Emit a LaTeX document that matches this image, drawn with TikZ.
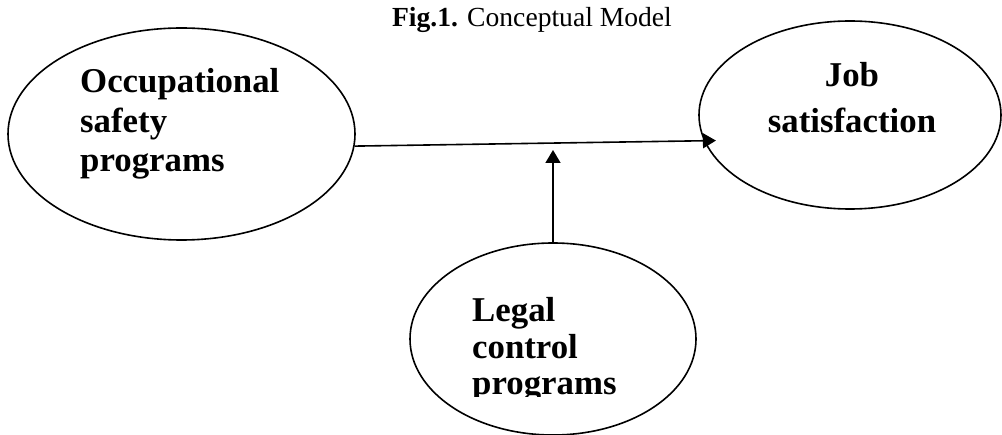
\documentclass[tikz,border=0pt]{standalone}
\usepackage{fontspec}
\setmainfont{Liberation Serif}
\usetikzlibrary{shapes.geometric,arrows.meta}
\tikzset{
  oval/.style={draw, ellipse, line width=1.6pt, inner sep=0pt},
  bigtext/.style={font=\fontsize{34.8}{40}\selectfont\bfseries, inner sep=0pt},
  link/.style={line width=1.6pt, -{Triangle[length=13pt,width=15pt]}},
}
\begin{document}
\begin{tikzpicture}[x=1pt,y=-1pt]
\useasboundingbox (0,0) rectangle (1002,435);
% title
\node[inner sep=0pt, anchor=base, font=\fontsize{27.6}{31}\selectfont] (title) at (532,27) {\textbf{Fig.1.} Conceptual Model};
% ellipses
\node[oval, minimum width=347pt, minimum height=212pt] (occ) at (181.5,134) {};
\node[oval, minimum width=302pt, minimum height=188pt] (job) at (850,115) {};
\node[oval, minimum width=286pt, minimum height=192pt] (legal) at (553,339) {};
% texts
\node[bigtext, anchor=base west] (occ1) at (80,93) {Occupational};
\node[bigtext, anchor=base west] (occ2) at (80,133) {safety};
\node[bigtext, anchor=base west] (occ3) at (80,172) {programs};
\node[bigtext, anchor=base] (job1) at (852,87) {Job};
\node[bigtext, anchor=base] (job2) at (852,133) {satisfaction};
\begin{scope}
\clip (400,240) rectangle (700,397);
\node[bigtext, anchor=base west] (leg1) at (472,322) {Legal};
\node[bigtext, anchor=base west] (leg2) at (472,358.5) {control};
\node[bigtext, anchor=base west] (leg3) at (472,395) {programs};
\end{scope}
% connectors
\coordinate (mid) at (553,150);
\draw[link, shorten >=-12pt] (occ.-4.3) -- (job.190.6);
\draw[link] (legal.north) -- (mid);
\end{tikzpicture}
\end{document}
